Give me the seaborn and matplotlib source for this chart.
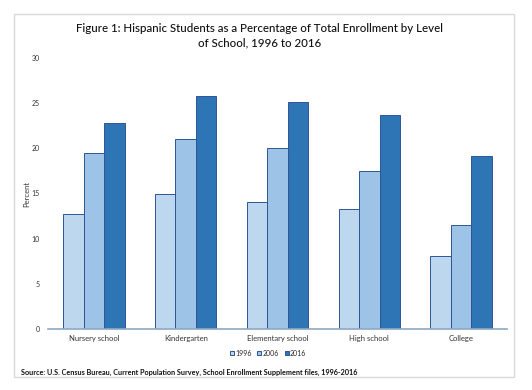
import matplotlib
matplotlib.use("Agg")
import matplotlib.pyplot as plt
import seaborn as sns
import pandas as pd
from matplotlib.patches import Rectangle

categories = ["Nursery school", "Kindergarten", "Elementary school", "High school", "College"]
years = ["1996", "2006", "2016"]
v1996 = [12.7, 15.0, 14.1, 13.3, 8.1]
v2006 = [19.5, 21.0, 20.0, 17.5, 11.5]
v2016 = [22.8, 25.8, 25.1, 23.7, 19.2]
yticks = [0, 5, 10, 15, 20, 25, 30]

rows = []
for yr, vals in zip(years, [v1996, v2006, v2016]):
    for c, v in zip(categories, vals):
        rows.append({"Level": c, "Year": yr, "Percent": v})
df = pd.DataFrame(rows)

sns.set_style("white")
plt.rcParams["font.family"] = ["Lato", "DejaVu Sans"]

fig = plt.figure(figsize=(5.32, 3.90), dpi=100)
ax = fig.add_axes([48/532, 1-329/390, (507-48)/532, (329-58)/390])

palette = {"1996": "#BDD7EE", "2006": "#9DC3E6", "2016": "#2E75B6"}
sns.barplot(data=df, x="Level", y="Percent", hue="Year", hue_order=years,
            order=categories, palette=palette, width=0.667, ax=ax,
            edgecolor="#2F5597", linewidth=0.7, saturation=1, errorbar=None)

ax.set_ylim(0, 30)
ax.set_xlim(-0.5, 4.5)
ax.set_yticks(yticks)
ax.set_yticklabels([str(t) for t in yticks], fontsize=5, color="#333333")
ax.tick_params(axis="both", length=0, pad=6)
ax.tick_params(axis="x", labelsize=5.5, pad=4, labelcolor="#333333")
ax.set_xlabel("")
ax.set_ylabel("Percent", fontsize=5.5, color="#333333", labelpad=1)
for s in ["top", "right", "left"]:
    ax.spines[s].set_visible(False)
ax.spines["bottom"].set_color("#8EA9C1")
ax.spines["bottom"].set_linewidth(1.2)

handles, labels = ax.get_legend_handles_labels()
ax.legend(handles, labels, loc="center", bbox_to_anchor=(268/532, 1-353/390),
          bbox_transform=fig.transFigure, ncol=3, frameon=False, fontsize=5,
          handlelength=0.6, handleheight=0.6, handletextpad=0.2, columnspacing=0.8)

fig.text(260/532, 1-36/390,
         "Figure 1: Hispanic Students as a Percentage of Total Enrollment by Level\nof School, 1996 to 2016",
         ha="center", va="center", fontsize=8.3, color="#111111", linespacing=1.35,
         fontweight="medium")
fig.text(21/532, 1-372/390,
         "Source: U.S. Census Bureau, Current Population Survey, School Enrollment Supplement files, 1996-2016",
         ha="left", va="center", fontsize=5.2, fontweight="bold", color="#111111")

fig.patches.append(Rectangle((14/532, 1-377/390), (514-14)/532, (377-14)/390,
                             transform=fig.transFigure, fill=False,
                             edgecolor="#D9D9D9", linewidth=1.0))

fig.savefig("out.png", dpi=100)
